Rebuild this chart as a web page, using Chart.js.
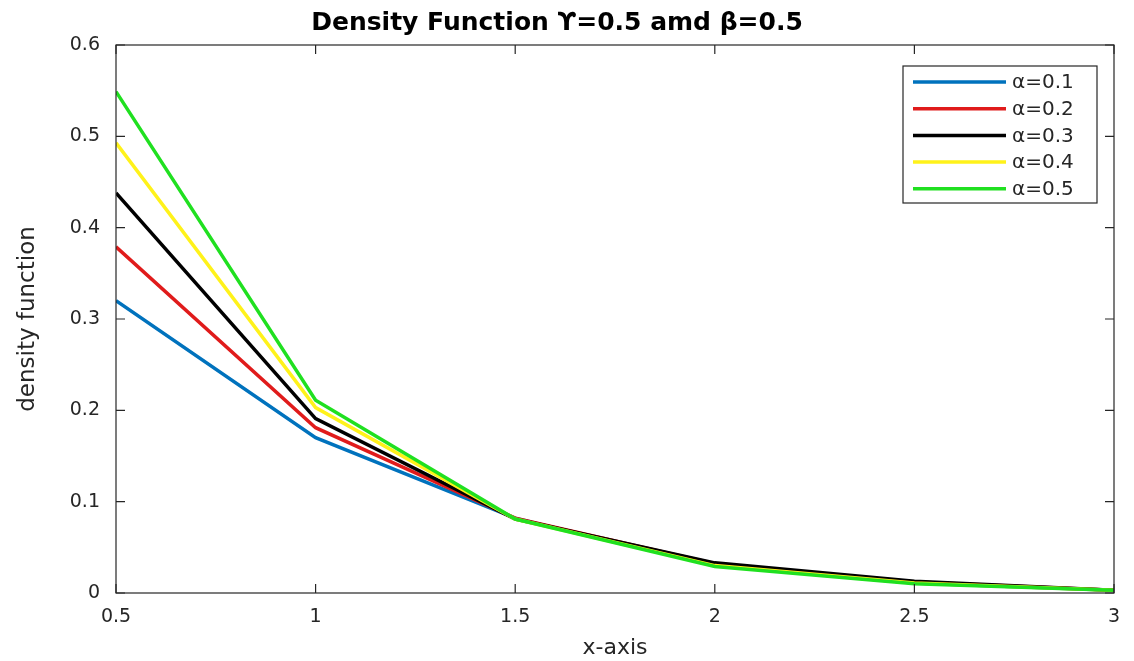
<!DOCTYPE html>
<html>
<head>
<meta charset="utf-8">
<script src="https://cdn.jsdelivr.net/npm/chart.js@4.4.0/dist/chart.umd.min.js"></script>
<style>
  html, body { margin: 0; padding: 0; background: #fff; }
  #wrap { width: 1134px; height: 661px; }
</style>
</head>
<body>
<div id="wrap"><canvas id="chartjs-0" width="1134" height="661"></canvas></div>
<script>
// x positions
var xValues = [0.5, 1, 1.5, 2, 2.5, 3];

// density curves, one per alpha
var alpha01 = [0.320, 0.170, 0.082, 0.030, 0.011, 0.003];
var alpha02 = [0.379, 0.181, 0.082, 0.032, 0.012, 0.003];
var alpha03 = [0.438, 0.191, 0.081, 0.033, 0.013, 0.003];
var alpha04 = [0.493, 0.203, 0.081, 0.030, 0.011, 0.003];
var alpha05 = [0.549, 0.211, 0.081, 0.029, 0.010, 0.003];

var seriesLabels = ["\u03B1=0.1", "\u03B1=0.2", "\u03B1=0.3", "\u03B1=0.4", "\u03B1=0.5"];
var seriesColors = ["#0072BD", "#E01B1B", "#000000", "#FFF21A", "#20E020"];

var xTicks = [0.5, 1, 1.5, 2, 2.5, 3];
var yTicks = [0, 0.1, 0.2, 0.3, 0.4, 0.5, 0.6];

var FONT = "'DejaVu Sans', 'Liberation Sans', Arial, sans-serif";
var AXIS = "#262626";

function pairs(ys) {
    var out = [];
    for (var i = 0; i < xValues.length; i++) {
        out.push({ x: xValues[i], y: ys[i] });
    }
    return out;
}

var allSeries = [alpha01, alpha02, alpha03, alpha04, alpha05];
var datasets = [];
for (var i = 0; i < allSeries.length; i++) {
    datasets.push({
        label: seriesLabels[i],
        data: pairs(allSeries[i]),
        borderColor: seriesColors[i],
        backgroundColor: seriesColors[i],
        borderWidth: 3.5,
        pointRadius: 0,
        fill: false,
        tension: 0,
        // later series painted over earlier ones, like matlab's hold on
        order: allSeries.length - i
    });
}

/* box round the axes plus inward ticks on all four sides, matlab style */
var boxPlugin = {
    id: "boxPlugin",
    afterDatasetsDraw: function(chart) {
        var ctx = chart.ctx;
        var a = chart.chartArea;
        var xs = chart.scales.x;
        var ys = chart.scales.y;
        var len = 9;
        ctx.save();
        ctx.strokeStyle = AXIS;
        ctx.lineWidth = 1.2;
        ctx.strokeRect(a.left, a.top, a.right - a.left, a.bottom - a.top);
        ctx.beginPath();
        xTicks.forEach(function(v) {
            var px = xs.getPixelForValue(v);
            ctx.moveTo(px, a.bottom); ctx.lineTo(px, a.bottom - len);
            ctx.moveTo(px, a.top); ctx.lineTo(px, a.top + len);
        });
        yTicks.forEach(function(v) {
            var py = ys.getPixelForValue(v);
            ctx.moveTo(a.left, py); ctx.lineTo(a.left + len, py);
            ctx.moveTo(a.right, py); ctx.lineTo(a.right - len, py);
        });
        ctx.stroke();
        ctx.restore();
    },
    afterDraw: function(chart) {
        // legend box inside the plot, top right
        var ctx = chart.ctx;
        var left = 903, top = 66, right = 1097, bottom = 203;
        ctx.save();
        ctx.fillStyle = "#fff";
        ctx.fillRect(left, top, right - left, bottom - top);
        ctx.strokeStyle = AXIS;
        ctx.lineWidth = 1.2;
        ctx.strokeRect(left, top, right - left, bottom - top);
        ctx.font = "20px " + FONT;
        ctx.textBaseline = "middle";
        chart.data.datasets.forEach(function(ds, k) {
            var y = 82 + k * 26.7;
            ctx.strokeStyle = ds.borderColor;
            ctx.lineWidth = 3.5;
            ctx.beginPath();
            ctx.moveTo(913, y);
            ctx.lineTo(1006, y);
            ctx.stroke();
            ctx.fillStyle = AXIS;
            ctx.fillText(ds.label, 1012, y + 1);
        });
        ctx.restore();
    }
};

var ctx0 = document.getElementById("chartjs-0");
var myChart = new Chart(ctx0, {
    type: "line",
    data: { datasets: datasets },
    options: {
        responsive: false,
        animation: false,
        layout: { padding: { top: 0, right: 20, left: 0, bottom: 0 } },
        plugins: {
            legend: { display: false },
            tooltip: { enabled: false },
            title: {
                display: true,
                text: "Density Function \u03D2=0.5 amd \u03B2=0.5",
                color: "#000",
                font: { family: FONT, size: 25, weight: "bold" },
                padding: { top: 8, bottom: 7 }
            }
        },
        scales: {
            x: {
                type: "linear",
                min: 0.5,
                max: 3,
                afterBuildTicks: function(scale) {
                    scale.ticks = xTicks.map(function(v) { return { value: v }; });
                },
                afterFit: function(scale) { scale.height = 68; },
                grid: { display: false, drawTicks: false },
                border: { display: false },
                ticks: {
                    color: AXIS,
                    padding: 13,
                    maxRotation: 0,
                    font: { family: FONT, size: 19 },
                    callback: function(v) { return v % 1 === 0 ? String(v) : v.toFixed(1); }
                },
                title: {
                    display: true,
                    text: "x-axis",
                    color: AXIS,
                    padding: { top: 0, bottom: 0 },
                    font: { family: FONT, size: 22 }
                }
            },
            y: {
                min: 0,
                max: 0.6,
                afterBuildTicks: function(scale) {
                    scale.ticks = yTicks.map(function(v) { return { value: v }; });
                },
                afterFit: function(scale) { scale.width = 116; },
                grid: { display: false, drawTicks: false },
                border: { display: false },
                ticks: {
                    color: AXIS,
                    padding: 16,
                    font: { family: FONT, size: 19 },
                    callback: function(v) { return v === 0 ? "0" : v.toFixed(1); }
                },
                title: {
                    display: true,
                    text: "density function",
                    color: AXIS,
                    padding: { top: 14, bottom: 0 },
                    font: { family: FONT, size: 23 }
                }
            }
        }
    },
    plugins: [boxPlugin]
});
</script>
</body>
</html>
